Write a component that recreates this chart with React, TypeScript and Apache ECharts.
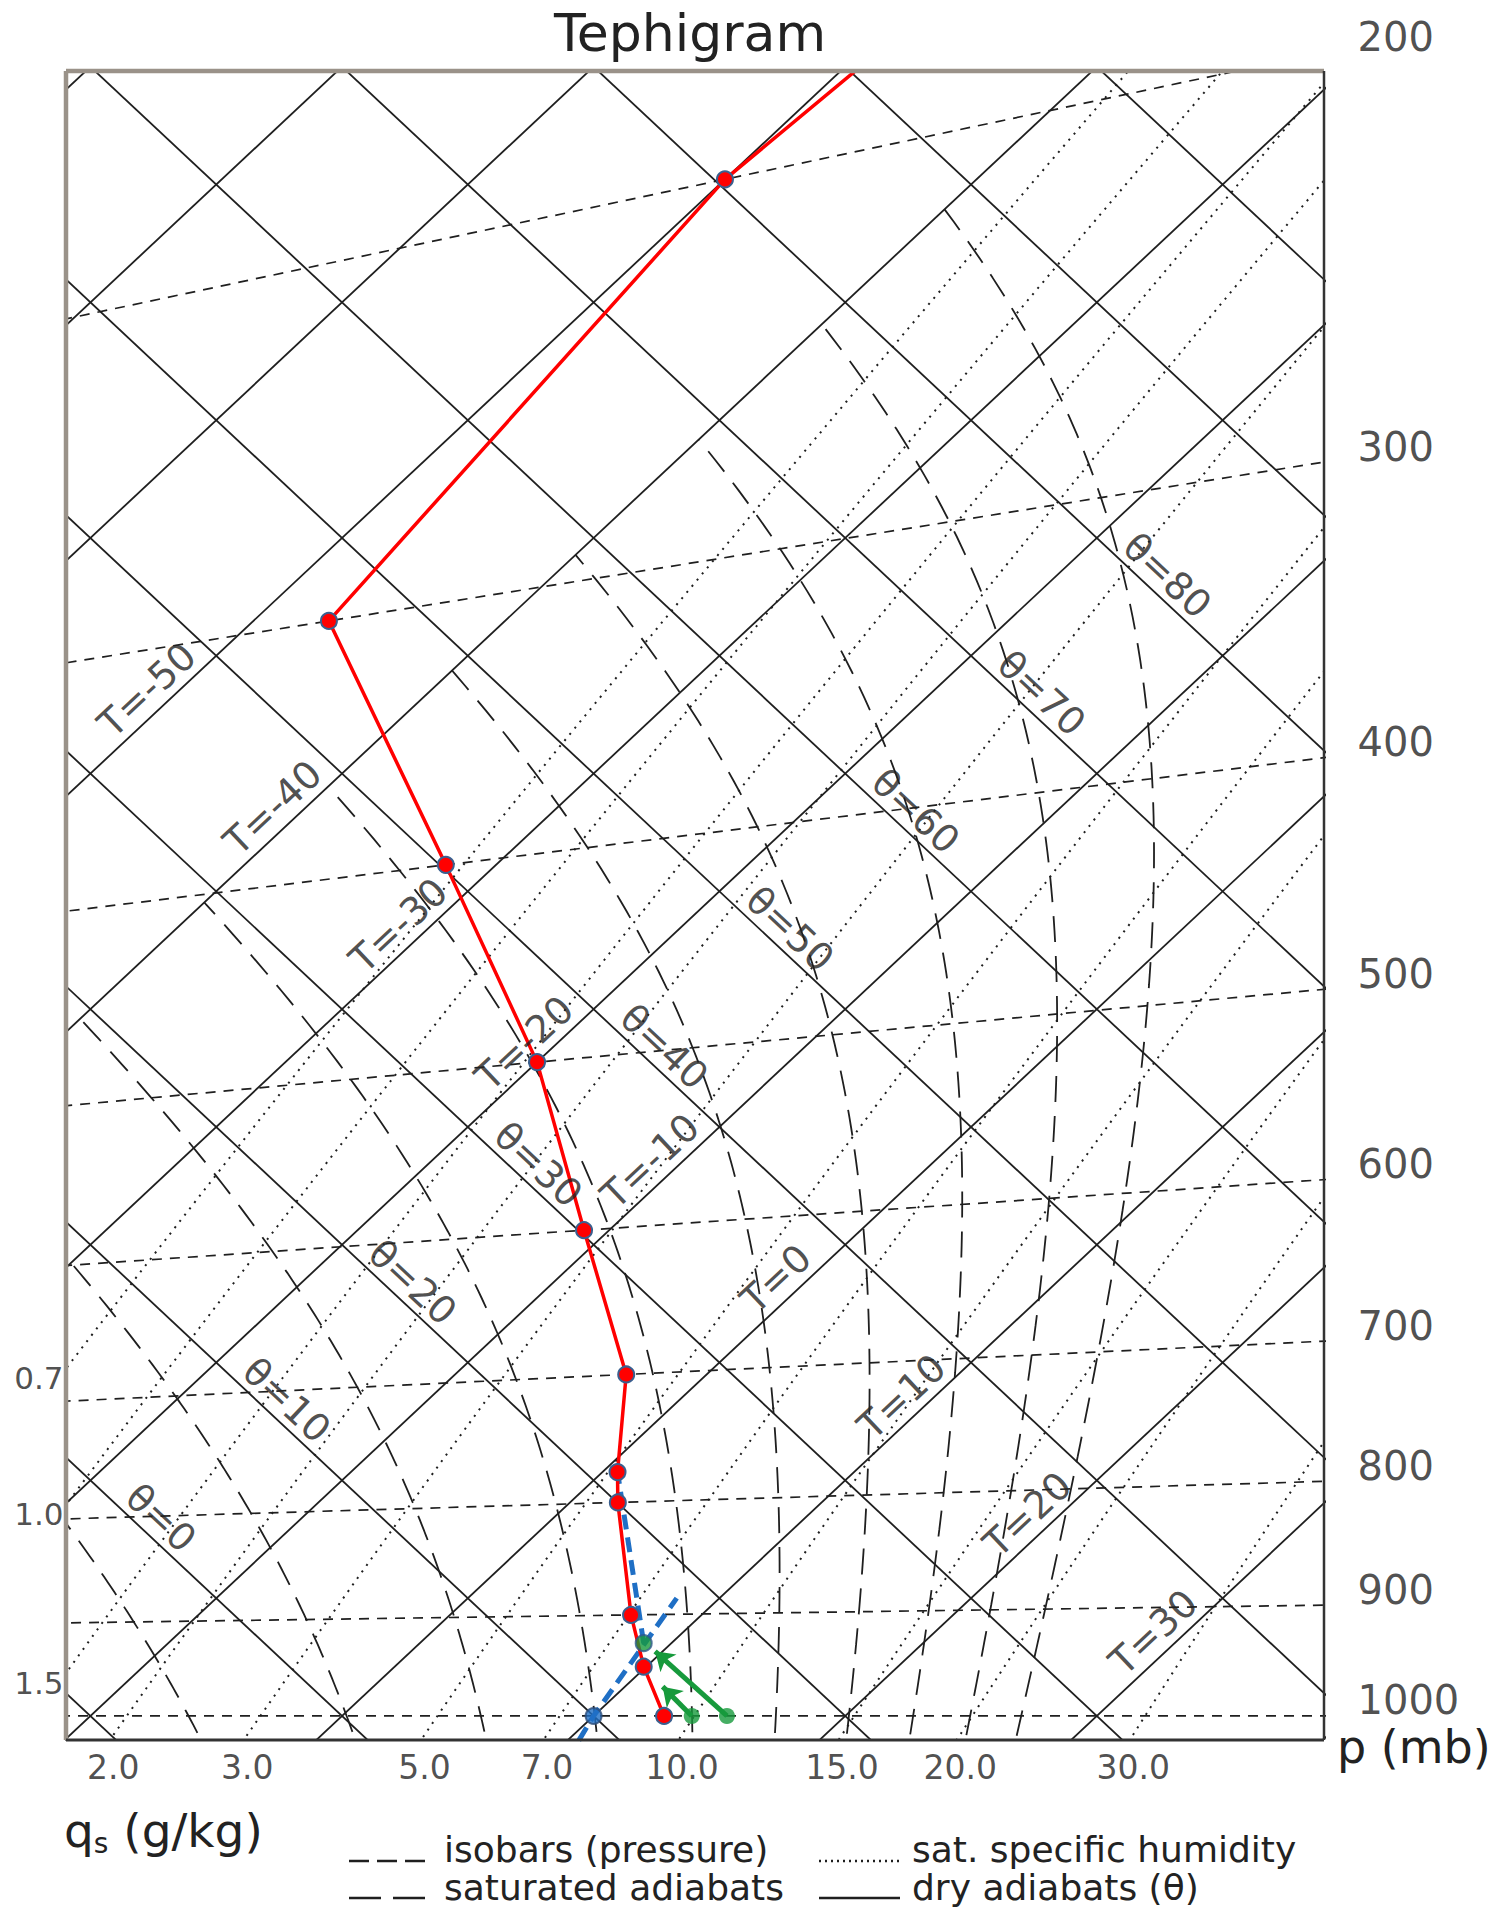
import React, { useEffect, useRef } from "react";
import * as echarts from "echarts";

// ---------- page / frame ----------
const W = 1498;
const H = 1908;
const GRID = { left: 66, top: 71, width: 1258, height: 1669 };
// axes of the rotated diagram: X = T + theta, Y = theta - T  (both in degC)
const X_MIN = -21.94;
const X_MAX = 78.06;
const Y_MIN = -2.04;
const Y_MAX = 139.64;

// ---------- isopleths of the diagram ----------
const ISOTHERMS = [-90, -80, -70, -60, -50, -40, -30, -20, -10, 0, 10, 20, 30, 40, 50];
const DRY_ADIABATS = [-20, -10, 0, 10, 20, 30, 40, 50, 60, 70, 80, 90, 100, 110];
const ISOBARS = [200, 300, 400, 500, 600, 700, 800, 900, 1000];
const ISOBAR_LABELS = ["200", "300", "400", "500", "600", "700", "800", "900", "1000"];
const QS_LINES = [0.7, 1.0, 1.5, 2.0, 3.0, 5.0, 7.0, 10.0, 15.0, 20.0, 30.0];
const QS_LEFT = [0.7, 1.0, 1.5];
const QS_LEFT_LABELS = ["0.7", "1.0", "1.5"];
const QS_BOTTOM = [2.0, 3.0, 5.0, 7.0, 10.0, 15.0, 20.0, 30.0];
const QS_BOTTOM_LABELS = ["2.0", "3.0", "5.0", "7.0", "10.0", "15.0", "20.0", "30.0"];
const SAT_ADIABATS_THETA_E = [-10, 0, 10, 20, 30, 40, 50, 60, 70, 80, 90];
const SAT_ADIABAT_MIN_T = -40;
const T_LABELS = [-50, -40, -30, -20, -10, 0, 10, 20, 30];
const THETA_LABELS = [0, 10, 20, 30, 40, 50, 60, 70, 80];

// ---------- sounding ----------
const SOUNDING_P = [200, 300, 400, 500, 600, 700, 775, 800, 900, 950, 1000];
const SOUNDING_T = [-50, -47, -32, -20, -11, -3.2, 0.6, 1.9, 7.2, 9.9, 12.8];
const SOUNDING_TOP_P = 150;
const SOUNDING_TOP_T = -48;
const DEWLINE_P = [1026, 1000, 885];
const DEWLINE_T = [10.45, 10.0, 8.3];
const MOIST_P = [927, 775];
const MOIST_T = [8.9, 0.6];
const DEW_P = 1000;
const DEW_T = 10.0;
const LCL_P = 927;
const LCL_T = 8.9;
const PARCEL_START_P = [1000, 1000];
const PARCEL_START_T = [15.3, 13.9];
const PARCEL_END_P = [935, 970];
const PARCEL_END_T = [9.7, 11.5];

// ---------- styling ----------
const FONT = "DejaVu Sans";
const INK = "#1f1f1f";
const TEXT = "#222222";
const ANGLE = (Math.atan((GRID.height / (Y_MAX - Y_MIN)) / (GRID.width / (X_MAX - X_MIN))) * 180) / Math.PI;

// ---------- thermodynamics ----------
const KAPPA = 0.286;
const fac = (p: number) => Math.pow(1000 / p, KAPPA);
const thetaOf = (T: number, p: number) => (T + 273.15) * fac(p) - 273.15;
const xyTTh = (T: number, th: number) => [T + th, th - T];
const xyTP = (T: number, p: number) => xyTTh(T, thetaOf(T, p));
const esat = (T: number) => 6.112 * Math.exp((17.67 * T) / (T + 243.5));
const tempFromQs = (q: number, p: number) => {
  const qq = q / 1000;
  const e = (qq * p) / (0.622 + 0.378 * qq);
  const l = Math.log(e / 6.112);
  return (243.5 * l) / (17.67 - l);
};
const thetaE = (T: number, p: number) => {
  const e = esat(T);
  const r = (0.622 * e) / (p - e);
  return (T + 273.15) * fac(p) * Math.exp((2.5e6 * r) / (1005 * (T + 273.15)));
};
const bisect = (g: (v: number) => number, lo: number, hi: number) => {
  let glo = g(lo);
  for (let i = 0; i < 80; i++) {
    const mid = (lo + hi) / 2;
    const gm = g(mid);
    if ((gm < 0) === (glo < 0)) {
      lo = mid;
      glo = gm;
    } else hi = mid;
  }
  return (lo + hi) / 2;
};
const tempFromThetaE = (teC: number, p: number) => {
  let hi = 60;
  while (esat(hi) > 0.3 * p) hi -= 2;
  return bisect((T) => thetaE(T, p) - (teC + 273.15), -200, hi);
};

const pressures = (from: number, to: number, step: number) => {
  const out: number[] = [];
  for (let p = from; p >= to; p -= step) out.push(p);
  return out;
};

// saturated adiabat, drawn from the bottom upward while warmer than SAT_ADIABAT_MIN_T
const satAdiabat = (te: number) => {
  const pts: number[][] = [];
  const ps = pressures(1060, 150, 5);
  for (let i = 0; i < ps.length; i++) {
    const T = tempFromThetaE(te, ps[i]);
    if (T < SAT_ADIABAT_MIN_T) {
      const pTop = bisect((p) => thetaE(SAT_ADIABAT_MIN_T, p) - (te + 273.15), ps[i], ps[i] + 5);
      pts.push(xyTP(SAT_ADIABAT_MIN_T, pTop));
      break;
    }
    pts.push(xyTP(T, ps[i]));
  }
  return pts;
};

function buildOption() {
  const series: any[] = [];
  const bg = (data: number[][], lineStyle: any) => ({
    type: "line",
    data,
    symbol: "none",
    silent: true,
    clip: true,
    z: 1,
    lineStyle: { color: INK, width: 1.7, ...lineStyle },
  });

  ISOTHERMS.forEach((t) => series.push(bg([xyTTh(t, -150), xyTTh(t, 250)], { type: "solid", width: 1.8 })));
  DRY_ADIABATS.forEach((th) => series.push(bg([xyTTh(-200, th), xyTTh(150, th)], { type: "solid", width: 1.8 })));
  ISOBARS.forEach((p) => series.push(bg([xyTP(-150, p), xyTP(80, p)], { type: [10, 8], width: 1.7 })));
  QS_LINES.forEach((q) =>
    series.push(bg(pressures(1060, 100, 10).map((p) => xyTP(tempFromQs(q, p), p)), { type: [2, 6], width: 2 }))
  );
  SAT_ADIABATS_THETA_E.forEach((te) => series.push(bg(satAdiabat(te), { type: [26, 14], width: 1.8 })));

  // ---------- labels ----------
  const labels = (data: any[], label: any) => ({
    type: "scatter",
    symbolSize: 1,
    itemStyle: { color: "rgba(0,0,0,0)" },
    clip: false,
    silent: true,
    z: 8,
    data,
    label: { show: true, formatter: "{b}", color: TEXT, fontFamily: FONT, ...label },
  });

  series.push(
    labels(
      T_LABELS.map((t) => ({ name: "T=" + (t < 0 ? "-" : "") + Math.abs(t), value: xyTTh(t - 1.3, 35.8) })),
      { position: "inside", align: "center", verticalAlign: "middle", rotate: ANGLE, fontSize: 38 }
    )
  );
  series.push(
    labels(
      THETA_LABELS.map((th) => ({ name: "θ=" + th, value: xyTTh(-15.6, th + 1.2) })),
      { position: "inside", align: "center", verticalAlign: "middle", rotate: -ANGLE, fontSize: 38 }
    )
  );
  series.push(
    labels(
      ISOBARS.map((p, i) => {
        const f = fac(p);
        const T = (X_MAX + 273.15 - 273.15 * f) / (1 + f);
        return { name: ISOBAR_LABELS[i], value: xyTP(T, p) };
      }),
      { position: [34, -15], align: "left", verticalAlign: "middle", fontSize: 40 }
    )
  );
  series.push(
    labels(
      QS_LEFT.map((q, i) => {
        const p = bisect((pp) => xyTP(tempFromQs(q, pp), pp)[0] - X_MIN, 300, 1100);
        return { name: QS_LEFT_LABELS[i], value: xyTP(tempFromQs(q, p), p) };
      }),
      { position: [-2, 10], align: "right", verticalAlign: "middle", fontSize: 31 }
    )
  );
  series.push(
    labels(
      QS_BOTTOM.map((q, i) => {
        const p = bisect((pp) => xyTP(tempFromQs(q, pp), pp)[1] - Y_MIN, 850, 1150);
        return { name: QS_BOTTOM_LABELS[i], value: xyTP(tempFromQs(q, p), p) };
      }),
      { position: [4, 28], align: "center", verticalAlign: "middle", fontSize: 33 }
    )
  );

  // ---------- sounding ----------
  const dot = { color: "#ff0000", borderColor: "#3a5f8f", borderWidth: 2 };
  series.push({
    type: "line",
    z: 6,
    clip: true,
    silent: true,
    symbol: "circle",
    symbolSize: 16,
    itemStyle: dot,
    lineStyle: { color: "#ff0000", width: 3.5 },
    data: [
      { value: xyTP(SOUNDING_TOP_T, SOUNDING_TOP_P), symbol: "none" },
      ...SOUNDING_P.map((p, i) => ({ value: xyTP(SOUNDING_T[i], p) })),
    ],
  });
  const blueDash = { color: "#1f6fc5", width: 5, type: [15, 8] };
  series.push({
    type: "line",
    z: 5,
    silent: true,
    symbol: "none",
    lineStyle: blueDash,
    data: DEWLINE_P.map((p, i) => xyTP(DEWLINE_T[i], p)),
  });
  series.push({
    type: "line",
    z: 5,
    silent: true,
    symbol: "none",
    lineStyle: blueDash,
    data: MOIST_P.map((p, i) => xyTP(MOIST_T[i], p)),
  });
  series.push({
    type: "lines",
    coordinateSystem: "cartesian2d",
    z: 6,
    silent: true,
    symbol: ["none", "arrow"],
    symbolSize: 18,
    lineStyle: { color: "#179a3c", width: 5, opacity: 1, curveness: 0 },
    data: PARCEL_START_P.map((p, i) => ({
      coords: [xyTP(PARCEL_START_T[i], p), xyTP(PARCEL_END_T[i], PARCEL_END_P[i])],
    })),
  });
  series.push({
    type: "scatter",
    z: 7,
    silent: true,
    symbolSize: 16,
    data: [
      { value: xyTP(DEW_T, DEW_P), itemStyle: { color: "#1f6fc5", borderColor: "#2d4e7a", borderWidth: 2 } },
      { value: xyTP(LCL_T, LCL_P), itemStyle: { color: "#179a3c", borderColor: "#2d5a8a", borderWidth: 2 } },
      ...PARCEL_START_P.map((p, i) => ({
        value: xyTP(PARCEL_START_T[i], p),
        itemStyle: { color: "#179a3c" },
      })),
    ],
  });

  // ---------- static graphics ----------
  const gl = (x1: number, y1: number, x2: number, y2: number, style: any) => ({
    type: "line",
    shape: { x1, y1, x2, y2 },
    style: { stroke: INK, lineWidth: 2.5, ...style },
    silent: true,
    z: 20,
  });
  const gt = (x: number, y: number, text: string, size: number, align = "left", extra: any = {}) => ({
    type: "text",
    x,
    y,
    silent: true,
    z: 20,
    style: {
      text,
      fill: TEXT,
      font: `${size}px "${FONT}"`,
      textAlign: align,
      textVerticalAlign: "middle",
      ...extra,
    },
  });
  const L = GRID.left;
  const T = GRID.top;
  const R = GRID.left + GRID.width;
  const B = GRID.top + GRID.height;
  const graphic = [
    gl(L, T, R, T, { stroke: "#9a9289", lineWidth: 4.5 }),
    gl(L, T, L, B, { stroke: "#9a9289", lineWidth: 4.5 }),
    gl(R, T, R, B, { stroke: "#333", lineWidth: 2.5 }),
    gl(L, B, R, B, { stroke: "#333", lineWidth: 3 }),
    gt(690, 33, "Tephigram", 52, "center"),
    gt(1337, 1747, "p (mb)", 46, "left"),
    {
      type: "text",
      x: 64,
      y: 1830,
      silent: true,
      z: 20,
      style: {
        text: "q{s|s} (g/kg)",
        fill: TEXT,
        font: `47px "${FONT}"`,
        textVerticalAlign: "middle",
        rich: { s: { fontSize: 28, fontFamily: FONT, fill: TEXT, padding: [26, 0, 0, 0] } },
      },
    },
    gl(349, 1861, 425, 1861, { lineDash: [20, 8] }),
    gl(349, 1898, 425, 1898, { lineDash: [32, 12] }),
    gl(819, 1861, 900, 1861, { lineDash: [2, 4] }),
    gl(819, 1898, 900, 1898, {}),
    gt(444, 1849, "isobars (pressure)", 36),
    gt(444, 1887, "saturated adiabats", 36),
    gt(912, 1849, "sat. specific humidity", 36),
    gt(912, 1887, "dry adiabats (θ)", 36),
  ];

  return {
    animation: false,
    backgroundColor: "#ffffff",
    grid: { ...GRID, containLabel: false },
    xAxis: { type: "value", min: X_MIN, max: X_MAX, show: false },
    yAxis: { type: "value", min: Y_MIN, max: Y_MAX, show: false },
    series,
    graphic,
  };
}

export default function App() {
  const ref = useRef<HTMLDivElement>(null);
  useEffect(() => {
    document.body.style.margin = "0";
    const chart = echarts.init(ref.current as HTMLDivElement, null, { renderer: "svg" });
    chart.setOption(buildOption() as any);
    return () => chart.dispose();
  }, []);
  return <div ref={ref} style={{ width: W, height: H, background: "#fff" }} />;
}
